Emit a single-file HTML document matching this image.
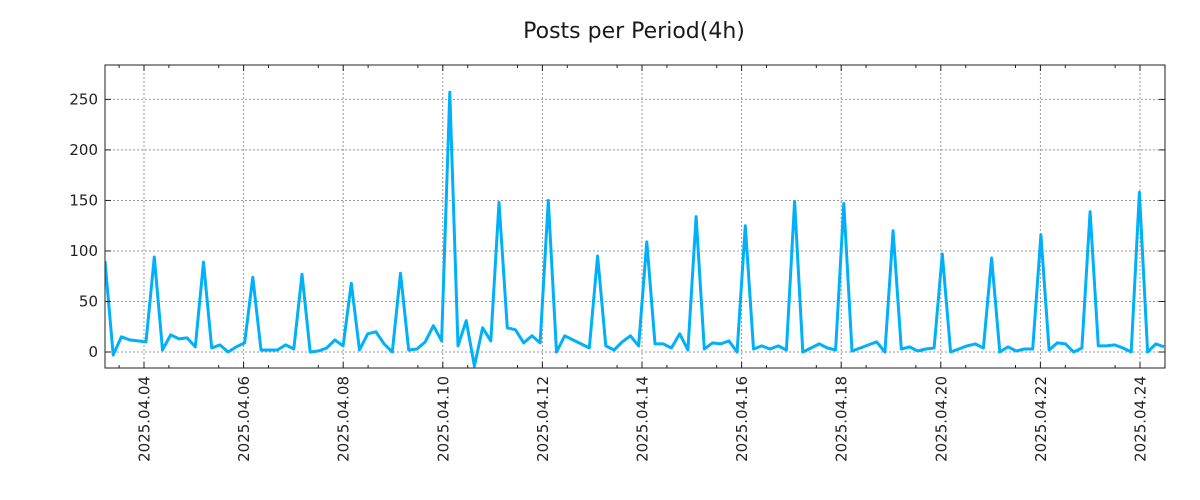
<!DOCTYPE html>
<html><head><meta charset="utf-8"><style>
html,body{margin:0;padding:0;background:#fff;}
svg{display:block;font-family:"DejaVu Sans","Liberation Sans",sans-serif;}
</style></head><body>
<svg id="chart" width="1200" height="500" xmlns="http://www.w3.org/2000/svg">
<text x="634" y="38" text-anchor="middle" font-size="22" fill="#1a1a1a">Posts per Period(4h)</text>
<g id="grid"></g><g id="series"></g><g id="axes"></g>
</svg>
<script>
const values = [90,-3,15,12,11,10,94,2,17,13,14,5,89,4,7,0,5,9,74,2,2,2,7,3,77,0,1,4,12,6,68,2,18,20,8,0,78,2,3,10,26,11,257,6,31,-14,24,11,148,24,22,9,16,9,150,0,16,12,8,4,95,6,2,10,16,6,109,8,8,4,18,2,134,3,9,8,11,0,125,3,6,3,6,2,149,0,4,8,4,2,147,1,4,7,10,0,120,3,5,1,3,4,97,0,3,6,8,4,93,0,5,1,3,3,116,2,9,8,0,4,139,6,6,7,4,0,158,0,8,5];
const yTicks = [0,50,100,150,200,250];
const xTickLabels = ["2025.04.04","2025.04.06","2025.04.08","2025.04.10","2025.04.12","2025.04.14","2025.04.16","2025.04.18","2025.04.20","2025.04.22","2025.04.24"];
const xTickDays = [0,2,4,6,8,10,12,14,16,18,20];

const L=105,R=1165,T=65,B=368;
const ns="http://www.w3.org/2000/svg";
function xIdx(i){return 105+i*(1059/129);}
function xDay(d){return 144+d*49.8;}
function y(v){return 352-v*1.0104;}
function mk(tag,attrs,parent){const e=document.createElementNS(ns,tag);for(const k in attrs)e.setAttribute(k,attrs[k]);parent.appendChild(e);return e;}
const grid=document.getElementById('grid'),axes=document.getElementById('axes'),series=document.getElementById('series');

yTicks.forEach(v=>{
  const g=mk('line',{x1:L,x2:R,y1:y(v),y2:y(v),stroke:'#999','stroke-width':1,'stroke-dasharray':'2,2'},grid);
  
  
  mk('line',{x1:L,x2:L+6,y1:y(v),y2:y(v),stroke:'#222'},axes);
  mk('line',{x1:R-6,x2:R,y1:y(v),y2:y(v),stroke:'#222'},axes);
  const t=mk('text',{x:L-7,y:y(v)+5,'text-anchor':'end','font-size':15,fill:'#222'},axes);
  t.textContent=v;
  
  
});
xTickDays.forEach((d,i)=>{
  const x=xDay(d);
  const g=mk('line',{x1:x,x2:x,y1:T,y2:B,stroke:'#999','stroke-width':1,'stroke-dasharray':'2,2'},grid);
  
  
  mk('line',{x1:x,x2:x,y1:B-6,y2:B,stroke:'#222'},axes);
  mk('line',{x1:x,x2:x,y1:T,y2:T+6,stroke:'#222'},axes);
  const t=mk('text',{x:0,y:0,'text-anchor':'end','font-size':15,fill:'#222',transform:'translate('+(x+5.5)+',376) rotate(-90)'},axes);
  t.textContent=xTickLabels[i];
  
  
});
for(let d=-0.5;d<=20.5;d+=0.5){
  if(Number.isInteger(d))continue;
  const x=xDay(d); if(x<L||x>R)continue;
  mk('line',{x1:x,x2:x,y1:B-3,y2:B,stroke:'#222'},axes);
  mk('line',{x1:x,x2:x,y1:T,y2:T+3,stroke:'#222'},axes);
}
const frame=mk('rect',{x:L,y:T,width:R-L,height:B-T,fill:'none',stroke:'#222','stroke-width':1},axes);



mk('clipPath',{id:'clip'},series).appendChild((()=>{const r=document.createElementNS(ns,'rect');r.setAttribute('x',L);r.setAttribute('y',T);r.setAttribute('width',R-L);r.setAttribute('height',B-T);return r;})());
const pts=values.map((v,i)=>xIdx(i).toFixed(1)+','+y(v).toFixed(1)).join(' ');
const line=mk('polyline',{points:pts,fill:'none',stroke:'#00b0f8','stroke-width':3,'stroke-linejoin':'round','clip-path':'url(#clip)'},series);


</script>
</body></html>
